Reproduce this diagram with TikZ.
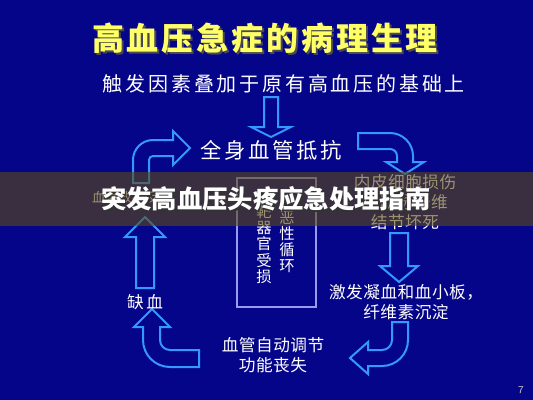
\documentclass[tikz,border=0pt]{standalone}
\usepackage{fontspec}
\usepackage{tikz}
\newfontfamily\cjk{Noto Sans CJK SC}
\definecolor{slidebg}{HTML}{05058A}
\definecolor{titleyellow}{HTML}{FFFF66}
\definecolor{arrowblue}{HTML}{3399FF}
\definecolor{boxline}{HTML}{9A9AF0}
\definecolor{bandtint}{RGB}{92,75,15}
\newcommand{\ls}[1]{\addfontfeature{LetterSpace=#1}}

\begin{document}
\begin{tikzpicture}[x=0.75pt,y=-0.75pt,
  blockarrow/.style={draw=arrowblue,line width=1.5pt,line join=miter},
  label/.style={text=white,inner sep=0pt},
  cycletext/.style={label,align=center,font=\cjk\fontsize{12.5}{15}\selectfont\ls{3}}]
\useasboundingbox[fill=slidebg] (0,0) rectangle (533,400);
% title and trigger line
\node[inner sep=0pt,text=black!70] (titleshadow) at (267,40) {\cjk\bfseries\fontsize{24}{24}\selectfont\ls{9}高血压急症的病理生理};
\node[inner sep=0pt,text=titleyellow] (title) at (265,38) {\cjk\bfseries\fontsize{24}{24}\selectfont\ls{9}高血压急症的病理生理};
\node[label,font=\cjk\fontsize{15}{15}\selectfont\ls{14}] (trigger) at (284,84) {触发因素叠加于原有高血压的基础上};
% block arrows
\draw[blockarrow] (264,97) -- (278,97) -- (278,127) -- (291,127) -- (271,137) -- (251,127) -- (264,127) -- cycle;
\draw[blockarrow] (133,183) -- (133,160) arc[start angle=180,end angle=270,radius=20] -- (173,140) -- (173,131) -- (190,148) -- (173,165) -- (173,156) -- (153,156) arc[start angle=270,end angle=180,radius=4] -- (149,183) -- cycle;
\draw[blockarrow] (358,133) -- (390,133) arc[start angle=270,end angle=360,radius=23] -- (413,162) -- (424,162) -- (405,174) -- (386,162) -- (397,162) -- (397,156) arc[start angle=0,end angle=-90,radius=7] -- (358,149) -- cycle;
\draw[blockarrow] (390,233) -- (408,233) -- (408,266) -- (418,266) -- (399,282) -- (380,266) -- (390,266) -- cycle;
\draw[blockarrow] (392,322) -- (408,322) -- (408,340) arc[start angle=0,end angle=90,radius=26] -- (368,366) -- (368,374) -- (350,358) -- (368,342) -- (368,350) -- (382,350) arc[start angle=90,end angle=0,radius=10] -- cycle;
\draw[blockarrow] (199,350) -- (199,367) -- (170,367) arc[start angle=90,end angle=180,radius=27] -- (143,327) -- (134,327) -- (152,309) -- (170,327) -- (160,327) -- (160,340) arc[start angle=180,end angle=90,radius=10] -- cycle;
\draw[blockarrow] (136,288) -- (136,237) -- (125,237) -- (145,217) -- (165,237) -- (154,237) -- (154,288) -- cycle;
% centre box
\draw[boxline,line width=1.5pt] (237,178) rectangle (316,307);
\node[label,align=center,font=\cjk\fontsize{11.5}{12.2}\selectfont] (target) at (264,244) {靶\\器\\官\\受\\损};
\node[label,align=center,font=\cjk\fontsize{11.5}{12.2}\selectfont] (vicious) at (287,242) {恶\\性\\循\\环};
% cycle texts
\node[label,font=\cjk\fontsize{16}{16}\selectfont\ls{12}] (resist) at (271,150) {全身血管抵抗};
\node[cycletext] (endo) at (405,202) {内皮细胞损伤\\小动脉纤维\\结节坏死};
\node[cycletext] (coag) at (406,302) {激发凝血和血小板，\\纤维素沉淀};
\node[cycletext] (autoreg) at (273,355) {血管自动调节\\功能丧失};
\node[label,font=\cjk\fontsize{12.5}{12.5}\selectfont\ls{15}] (ischemia) at (145,302) {缺血};
\node[label,font=\cjk\fontsize{10}{10}\selectfont] (vasoc) at (132,197) {血管收缩反应};
\node[inner sep=0pt,text=black!25,font=\sffamily\fontsize{8}{8}\selectfont] (page) at (521,390) {7};
% overlay band
\fill[bandtint,fill opacity=0.6] (0,172) rectangle (533,226);
\node[inner sep=0pt,text=black!80] (bannershadow) at (267.5,200.5) {\cjk\bfseries\fontsize{19}{19}\selectfont 突发高血压头疼应急处理指南};
\node[inner sep=0pt,text=white] (banner) at (266,199) {\cjk\bfseries\fontsize{19}{19}\selectfont 突发高血压头疼应急处理指南};
\end{tikzpicture}
\end{document}
